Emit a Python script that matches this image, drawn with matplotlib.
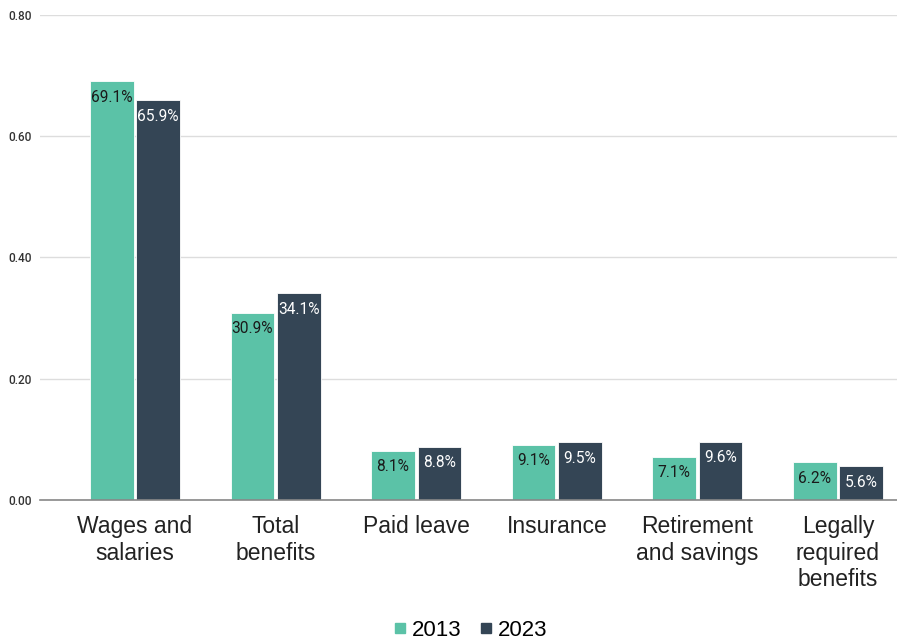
import numpy as np
import matplotlib.pyplot as plt
from matplotlib.lines import Line2D

categories = ["Wages and\nsalaries", "Total\nbenefits", "Paid leave", "Insurance",
              "Retirement\nand savings", "Legally\nrequired\nbenefits"]
share_2013 = [0.691, 0.309, 0.081, 0.091, 0.071, 0.062]
share_2023 = [0.659, 0.341, 0.088, 0.095, 0.096, 0.056]
yticks = [0.0, 0.2, 0.4, 0.6, 0.8]

green = '#5bc2a7'
navy = '#344555'

fig = plt.figure(figsize=(8.97, 6.43), dpi=100)
ax = fig.add_axes([0.0446, 0.2224, 0.9554, 0.7543])

x = np.arange(len(categories))
w = 0.31
b1 = ax.bar(x - 0.165, share_2013, w, color=green, edgecolor='white', linewidth=0.6, zorder=3)
b2 = ax.bar(x + 0.165, share_2023, w, color=navy, edgecolor='white', linewidth=0.6, zorder=3)

for bars, vals, tc in ((b1, share_2013, '#1a1a1a'), (b2, share_2023, 'white')):
    for r, v in zip(bars, vals):
        ax.annotate(f"{v * 100:.1f}%", (r.get_x() + r.get_width() / 2, v),
                    xytext=(0, -11.5), textcoords='offset points', ha='center', va='center',
                    fontsize=11.2, family='Roboto', color=tc, zorder=4)

ax.set_xlim(-0.676, 5.42)
ax.set_ylim(0, 0.8)
ax.set_yticks(yticks)
ax.set_yticklabels([f"{t:.2f}" for t in yticks], family='Roboto', fontsize=8.5,
                   color='#333333', fontweight='medium')
ax.set_xticks(x)
ax.set_xticklabels(categories, family='Liberation Sans', fontsize=16.5, color='#222222',
                   linespacing=1.18, va='top')
ax.tick_params(axis='both', length=0)
ax.tick_params(axis='x', pad=11)
ax.tick_params(axis='y', pad=6)
ax.grid(axis='y', color='#dddddd', linewidth=1, zorder=0)
for s in ('top', 'right', 'left'):
    ax.spines[s].set_visible(False)
ax.spines['bottom'].set_color('#888888')
ax.spines['bottom'].set_linewidth(1.2)
ax.spines['bottom'].set_zorder(5)

handles = [Line2D([], [], marker='s', linestyle='none', markersize=7.5, color=green),
           Line2D([], [], marker='s', linestyle='none', markersize=7.5, color=navy)]
fig.legend(handles, ['2013', '2023'], loc='center', bbox_to_anchor=(0.522, 0.02),
           ncol=2, frameon=False, prop={'family': 'Liberation Sans', 'size': 16},
           handletextpad=0.05, columnspacing=0.6, handlelength=1.0)

fig.savefig('out.png', dpi=100)
